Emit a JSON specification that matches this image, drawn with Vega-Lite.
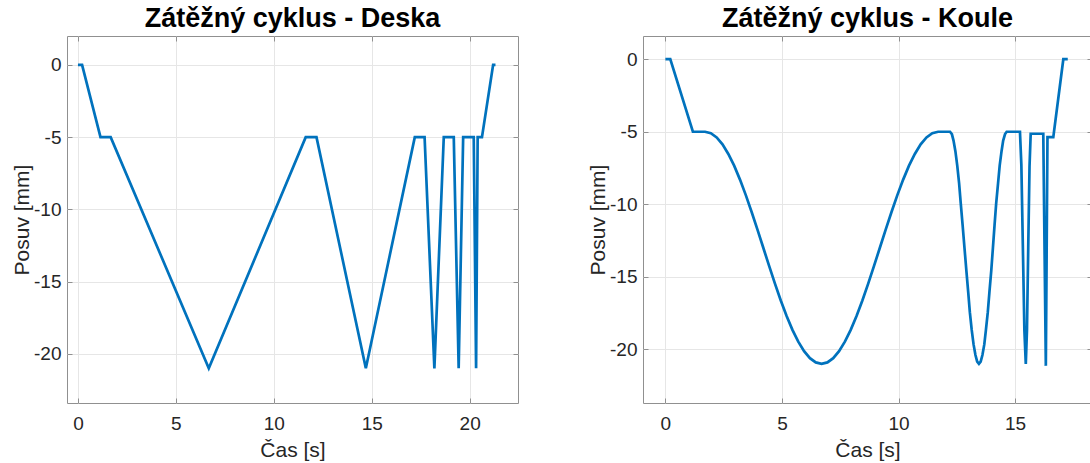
{
  "$schema": "https://vega.github.io/schema/vega-lite/v6.json",
  "background": "white",
  "padding": {"left": 11, "top": 4, "right": 0, "bottom": 0},
  "spacing": 68,
  "config": {
    "font": "Liberation Sans",
    "view": {"stroke": "#909090", "strokeWidth": 1},
    "axis": {
      "labelFont": "Liberation Sans",
      "labelFontSize": 19,
      "labelColor": "#262626",
      "labelPadding": 11,
      "labelExpr": "replace(datum.label, '−', '-')",
      "titleFont": "Liberation Sans",
      "titleFontSize": 21,
      "titleFontWeight": "normal",
      "titleColor": "#262626",
      "titlePadding": 1,
      "domain": false,
      "ticks": true,
      "tickSize": -5,
      "tickColor": "#909090",
      "gridColor": "#e6e6e6",
      "gridWidth": 1
    },
    "axisX": {"labelPadding": 16, "titlePadding": 6},
    "title": {"font": "Liberation Sans", "fontSize": 27, "fontWeight": "bold", "color": "#000000", "offset": 3}
  },
  "datasets": {
    "deska": [
      {"t": 0, "y": 0}, {"t": 0.21, "y": 0}, {"t": 1.15, "y": -5}, {"t": 1.67, "y": -5},
      {"t": 6.68, "y": -21}, {"t": 11.63, "y": -5}, {"t": 12.18, "y": -5}, {"t": 14.7, "y": -21},
      {"t": 17.2, "y": -5}, {"t": 17.7, "y": -5}, {"t": 18.2, "y": -21}, {"t": 18.68, "y": -5},
      {"t": 19.19, "y": -5}, {"t": 19.44, "y": -21}, {"t": 19.67, "y": -5}, {"t": 20.21, "y": -5},
      {"t": 20.33, "y": -21}, {"t": 20.41, "y": -5}, {"t": 20.63, "y": -5}, {"t": 21.2, "y": 0},
      {"t": 21.32, "y": 0}
    ],
    "koule": [
      {"t": 0, "y": 0}, {"t": 0.21, "y": 0}, {"t": 1.18, "y": -5}, {"t": 1.7, "y": -5},
      {"t": 1.95, "y": -5.1}, {"t": 2.2, "y": -5.39}, {"t": 2.45, "y": -5.87}, {"t": 2.7, "y": -6.53},
      {"t": 2.95, "y": -7.34}, {"t": 3.2, "y": -8.3}, {"t": 3.45, "y": -9.37}, {"t": 3.7, "y": -10.53},
      {"t": 3.95, "y": -11.75}, {"t": 4.2, "y": -13}, {"t": 4.45, "y": -14.25}, {"t": 4.7, "y": -15.47},
      {"t": 4.95, "y": -16.63}, {"t": 5.2, "y": -17.7}, {"t": 5.45, "y": -18.66}, {"t": 5.7, "y": -19.47},
      {"t": 5.95, "y": -20.13}, {"t": 6.2, "y": -20.61}, {"t": 6.45, "y": -20.9}, {"t": 6.7, "y": -21},
      {"t": 6.95, "y": -20.9}, {"t": 7.2, "y": -20.61}, {"t": 7.45, "y": -20.13}, {"t": 7.7, "y": -19.47},
      {"t": 7.95, "y": -18.66}, {"t": 8.2, "y": -17.7}, {"t": 8.45, "y": -16.63}, {"t": 8.7, "y": -15.47},
      {"t": 8.95, "y": -14.25}, {"t": 9.2, "y": -13}, {"t": 9.45, "y": -11.75}, {"t": 9.7, "y": -10.53},
      {"t": 9.95, "y": -9.37}, {"t": 10.2, "y": -8.3}, {"t": 10.45, "y": -7.34}, {"t": 10.7, "y": -6.53},
      {"t": 10.95, "y": -5.87}, {"t": 11.2, "y": -5.39}, {"t": 11.45, "y": -5.1}, {"t": 11.7, "y": -5},
      {"t": 12.21, "y": -5}, {"t": 12.29, "y": -5.16}, {"t": 12.36, "y": -5.61}, {"t": 12.44, "y": -6.34},
      {"t": 12.52, "y": -7.34}, {"t": 12.6, "y": -8.56}, {"t": 12.67, "y": -9.94}, {"t": 12.75, "y": -11.44},
      {"t": 12.83, "y": -13}, {"t": 12.91, "y": -14.56}, {"t": 12.99, "y": -16.06}, {"t": 13.06, "y": -17.44},
      {"t": 13.14, "y": -18.66}, {"t": 13.22, "y": -19.66}, {"t": 13.3, "y": -20.39}, {"t": 13.375, "y": -20.85},
      {"t": 13.45, "y": -21}, {"t": 13.525, "y": -20.85}, {"t": 13.6, "y": -20.39}, {"t": 13.68, "y": -19.66},
      {"t": 13.75, "y": -18.66}, {"t": 13.83, "y": -17.44}, {"t": 13.9, "y": -16.06}, {"t": 13.98, "y": -14.56},
      {"t": 14.05, "y": -13}, {"t": 14.12, "y": -11.44}, {"t": 14.19, "y": -9.94}, {"t": 14.27, "y": -8.56},
      {"t": 14.34, "y": -7.34}, {"t": 14.42, "y": -6.34}, {"t": 14.49, "y": -5.61}, {"t": 14.57, "y": -5.16},
      {"t": 14.64, "y": -5}, {"t": 15.21, "y": -5}, {"t": 15.27, "y": -7.3}, {"t": 15.335, "y": -13},
      {"t": 15.4, "y": -18.7}, {"t": 15.46, "y": -21}, {"t": 15.51, "y": -18.7}, {"t": 15.565, "y": -13},
      {"t": 15.62, "y": -7.4}, {"t": 15.67, "y": -5.14}, {"t": 16.21, "y": -5.14}, {"t": 16.32, "y": -21.14},
      {"t": 16.39, "y": -5.37}, {"t": 16.64, "y": -5.37}, {"t": 17.07, "y": 0}, {"t": 17.26, "y": 0}
    ]
  },
  "hconcat": [
    {
      "title": "Zátěžný cyklus - Deska",
      "width": 451,
      "height": 367,
      "data": {"name": "deska"},
      "layer": [
        {
          "mark": {"type": "line", "color": "#0072BD", "strokeWidth": 2.7, "clip": true},
          "encoding": {
            "x": {"field": "t", "type": "quantitative", "scale": {"domain": [-0.56, 22.47], "nice": false, "zero": false},
                  "axis": {"values": [0, 5, 10, 15, 20], "title": "Čas [s]"}},
            "y": {"field": "y", "type": "quantitative", "scale": {"domain": [-23.4, 2.0], "nice": false, "zero": false},
                  "axis": {"values": [-20, -15, -10, -5, 0], "title": "Posuv [mm]"}}
          }
        },
        {
          "mark": {"type": "line", "opacity": 0, "clip": true},
          "encoding": {
            "x": {"field": "t", "type": "quantitative", "scale": {"domain": [-0.56, 22.47], "nice": false, "zero": false},
                  "axis": {"orient": "top", "values": [0, 5, 10, 15, 20], "labels": false, "grid": false, "title": null}},
            "y": {"field": "y", "type": "quantitative", "scale": {"domain": [-23.4, 2.0], "nice": false, "zero": false},
                  "axis": {"orient": "right", "values": [-20, -15, -10, -5, 0], "labels": false, "grid": false, "title": null}}
          }
        }
      ],
      "resolve": {"scale": {"x": "independent", "y": "independent"}, "axis": {"x": "independent", "y": "independent"}}
    },
    {
      "title": "Zátěžný cyklus - Koule",
      "width": 449,
      "height": 367,
      "data": {"name": "koule"},
      "layer": [
        {
          "mark": {"type": "line", "color": "#0072BD", "strokeWidth": 2.7, "clip": true},
          "encoding": {
            "x": {"field": "t", "type": "quantitative", "scale": {"domain": [-0.96, 18.3], "nice": false, "zero": false},
                  "axis": {"values": [0, 5, 10, 15], "title": "Čas [s]"}},
            "y": {"field": "y", "type": "quantitative", "scale": {"domain": [-23.7, 1.6], "nice": false, "zero": false},
                  "axis": {"values": [-20, -15, -10, -5, 0], "title": "Posuv [mm]"}}
          }
        },
        {
          "mark": {"type": "line", "opacity": 0, "clip": true},
          "encoding": {
            "x": {"field": "t", "type": "quantitative", "scale": {"domain": [-0.96, 18.3], "nice": false, "zero": false},
                  "axis": {"orient": "top", "values": [0, 5, 10, 15], "labels": false, "grid": false, "title": null}},
            "y": {"field": "y", "type": "quantitative", "scale": {"domain": [-23.7, 1.6], "nice": false, "zero": false},
                  "axis": {"orient": "right", "values": [-20, -15, -10, -5, 0], "labels": false, "grid": false, "title": null}}
          }
        }
      ],
      "resolve": {"scale": {"x": "independent", "y": "independent"}, "axis": {"x": "independent", "y": "independent"}}
    }
  ]
}
